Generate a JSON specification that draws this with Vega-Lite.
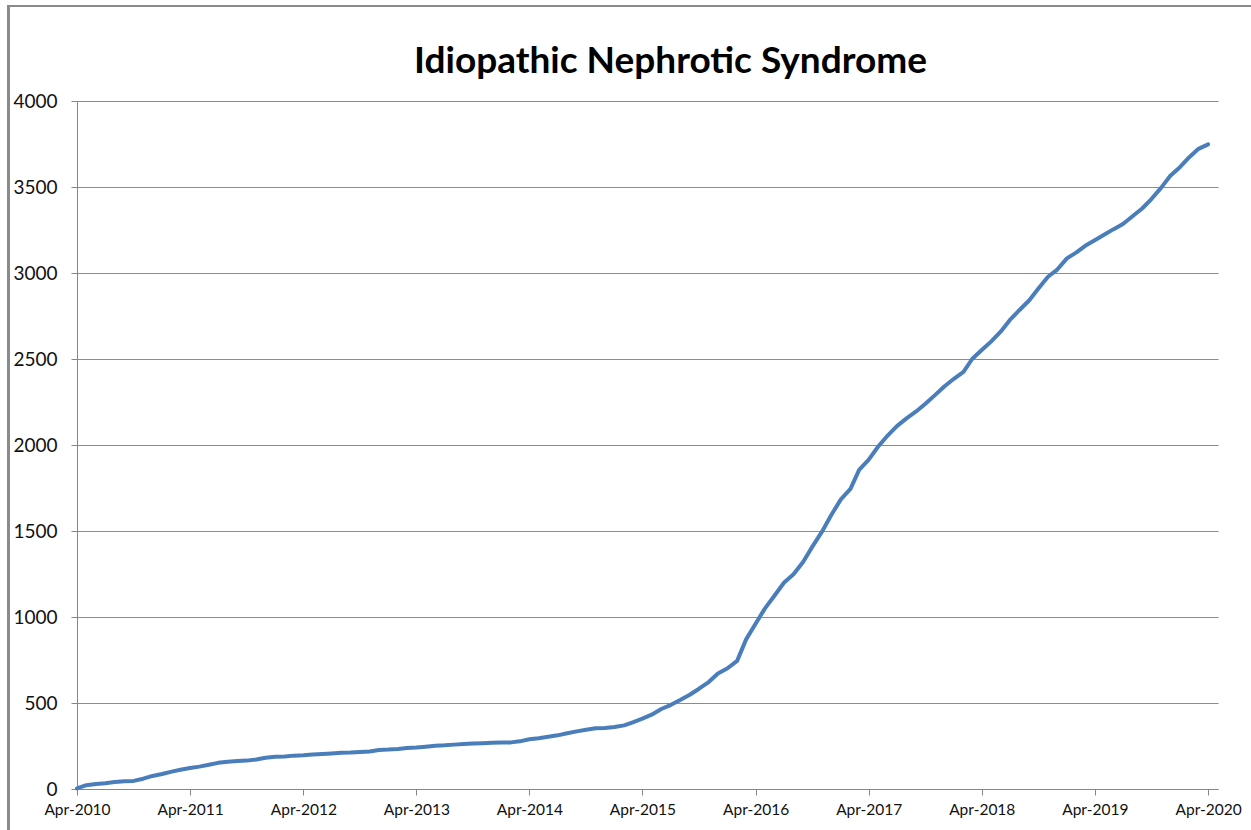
{
  "$schema": "https://vega.github.io/schema/vega-lite/v6.json",
  "autosize": {"type": "none"},
  "width": 1141,
  "height": 688,
  "padding": {"left": 77, "top": 101, "right": 33, "bottom": 41},
  "background": "white",
  "title": {
    "text": "Idiopathic Nephrotic Syndrome",
    "font": "Lato",
    "fontSize": 37,
    "fontWeight": "bold",
    "color": "#000000",
    "anchor": "middle",
    "frame": "group",
    "dx": 23,
    "baseline": "alphabetic",
    "offset": -105
  },
  "config": {"view": {"stroke": null}},
  "data": {"values": [
    {"date": "2010-04-01", "count": 3},
    {"date": "2010-05-01", "count": 22},
    {"date": "2010-06-01", "count": 29},
    {"date": "2010-07-01", "count": 33},
    {"date": "2010-08-01", "count": 41},
    {"date": "2010-09-01", "count": 45},
    {"date": "2010-10-01", "count": 47},
    {"date": "2010-11-01", "count": 60},
    {"date": "2010-12-01", "count": 76},
    {"date": "2011-01-01", "count": 87},
    {"date": "2011-02-01", "count": 101},
    {"date": "2011-03-01", "count": 112},
    {"date": "2011-04-01", "count": 122},
    {"date": "2011-05-01", "count": 130},
    {"date": "2011-06-01", "count": 141},
    {"date": "2011-07-01", "count": 152},
    {"date": "2011-08-01", "count": 159},
    {"date": "2011-09-01", "count": 163},
    {"date": "2011-10-01", "count": 165},
    {"date": "2011-11-01", "count": 172},
    {"date": "2011-12-01", "count": 182},
    {"date": "2012-01-01", "count": 188},
    {"date": "2012-02-01", "count": 189},
    {"date": "2012-03-01", "count": 194},
    {"date": "2012-04-01", "count": 196},
    {"date": "2012-05-01", "count": 200},
    {"date": "2012-06-01", "count": 203},
    {"date": "2012-07-01", "count": 207},
    {"date": "2012-08-01", "count": 211},
    {"date": "2012-09-01", "count": 212},
    {"date": "2012-10-01", "count": 215},
    {"date": "2012-11-01", "count": 218},
    {"date": "2012-12-01", "count": 227},
    {"date": "2013-01-01", "count": 229},
    {"date": "2013-02-01", "count": 233},
    {"date": "2013-03-01", "count": 238},
    {"date": "2013-04-01", "count": 241},
    {"date": "2013-05-01", "count": 246},
    {"date": "2013-06-01", "count": 252},
    {"date": "2013-07-01", "count": 254},
    {"date": "2013-08-01", "count": 258},
    {"date": "2013-09-01", "count": 262},
    {"date": "2013-10-01", "count": 264},
    {"date": "2013-11-01", "count": 266},
    {"date": "2013-12-01", "count": 269},
    {"date": "2014-01-01", "count": 271},
    {"date": "2014-02-01", "count": 271},
    {"date": "2014-03-01", "count": 277},
    {"date": "2014-04-01", "count": 289},
    {"date": "2014-05-01", "count": 295},
    {"date": "2014-06-01", "count": 304},
    {"date": "2014-07-01", "count": 312},
    {"date": "2014-08-01", "count": 324},
    {"date": "2014-09-01", "count": 335},
    {"date": "2014-10-01", "count": 345},
    {"date": "2014-11-01", "count": 353},
    {"date": "2014-12-01", "count": 355},
    {"date": "2015-01-01", "count": 360},
    {"date": "2015-02-01", "count": 370},
    {"date": "2015-03-01", "count": 388},
    {"date": "2015-04-01", "count": 409},
    {"date": "2015-05-01", "count": 432},
    {"date": "2015-06-01", "count": 465},
    {"date": "2015-07-01", "count": 488},
    {"date": "2015-08-01", "count": 517},
    {"date": "2015-09-01", "count": 548},
    {"date": "2015-10-01", "count": 583},
    {"date": "2015-11-01", "count": 622},
    {"date": "2015-12-01", "count": 672},
    {"date": "2016-01-01", "count": 702},
    {"date": "2016-02-01", "count": 745},
    {"date": "2016-03-01", "count": 870},
    {"date": "2016-04-01", "count": 962},
    {"date": "2016-05-01", "count": 1050},
    {"date": "2016-06-01", "count": 1125},
    {"date": "2016-07-01", "count": 1199},
    {"date": "2016-08-01", "count": 1248},
    {"date": "2016-09-01", "count": 1320},
    {"date": "2016-10-01", "count": 1409},
    {"date": "2016-11-01", "count": 1496},
    {"date": "2016-12-01", "count": 1593},
    {"date": "2017-01-01", "count": 1684},
    {"date": "2017-02-01", "count": 1745},
    {"date": "2017-03-01", "count": 1855},
    {"date": "2017-04-01", "count": 1915},
    {"date": "2017-05-01", "count": 1990},
    {"date": "2017-06-01", "count": 2055},
    {"date": "2017-07-01", "count": 2110},
    {"date": "2017-08-01", "count": 2155},
    {"date": "2017-09-01", "count": 2195},
    {"date": "2017-10-01", "count": 2240},
    {"date": "2017-11-01", "count": 2290},
    {"date": "2017-12-01", "count": 2340},
    {"date": "2018-01-01", "count": 2385},
    {"date": "2018-02-01", "count": 2425},
    {"date": "2018-03-01", "count": 2500},
    {"date": "2018-04-01", "count": 2552},
    {"date": "2018-05-01", "count": 2601},
    {"date": "2018-06-01", "count": 2659},
    {"date": "2018-07-01", "count": 2727},
    {"date": "2018-08-01", "count": 2785},
    {"date": "2018-09-01", "count": 2840},
    {"date": "2018-10-01", "count": 2910},
    {"date": "2018-11-01", "count": 2978},
    {"date": "2018-12-01", "count": 3020},
    {"date": "2019-01-01", "count": 3085},
    {"date": "2019-02-01", "count": 3120},
    {"date": "2019-03-01", "count": 3158},
    {"date": "2019-04-01", "count": 3190},
    {"date": "2019-05-01", "count": 3222},
    {"date": "2019-06-01", "count": 3255},
    {"date": "2019-07-01", "count": 3285},
    {"date": "2019-08-01", "count": 3330},
    {"date": "2019-09-01", "count": 3375},
    {"date": "2019-10-01", "count": 3430},
    {"date": "2019-11-01", "count": 3495},
    {"date": "2019-12-01", "count": 3565},
    {"date": "2020-01-01", "count": 3615},
    {"date": "2020-02-01", "count": 3675},
    {"date": "2020-03-01", "count": 3722},
    {"date": "2020-04-01", "count": 3748}
  ]},
  "layer": [
    {
      "mark": {"type": "rect", "fill": null, "filled": false, "stroke": "#8a8a8a", "strokeWidth": 2, "clip": false},
      "encoding": {
        "x": {"datum": {"year": 2009, "month": 8, "date": 22, "utc": true}, "type": "temporal"},
        "x2": {"datum": {"year": 2035, "month": 1, "date": 1, "utc": true}},
        "y": {"datum": 4552, "type": "quantitative"},
        "y2": {"datum": -3000}
      }
    },
    {
      "mark": {"type": "line", "color": "#4a7ebb", "strokeWidth": 4, "strokeJoin": "round", "strokeCap": "round"},
      "encoding": {
        "x": {
          "field": "date",
          "type": "temporal",
          "title": null,
          "scale": {"type": "utc", "domain": [{"year": 2010, "month": 4, "date": 1, "utc": true}, {"year": 2020, "month": 5, "date": 3, "utc": true}]},
          "axis": {
            "values": [
              {"year": 2010, "month": 4, "date": 1, "utc": true},
              {"year": 2011, "month": 4, "date": 1, "utc": true},
              {"year": 2012, "month": 4, "date": 1, "utc": true},
              {"year": 2013, "month": 4, "date": 1, "utc": true},
              {"year": 2014, "month": 4, "date": 1, "utc": true},
              {"year": 2015, "month": 4, "date": 1, "utc": true},
              {"year": 2016, "month": 4, "date": 1, "utc": true},
              {"year": 2017, "month": 4, "date": 1, "utc": true},
              {"year": 2018, "month": 4, "date": 1, "utc": true},
              {"year": 2019, "month": 4, "date": 1, "utc": true},
              {"year": 2020, "month": 4, "date": 1, "utc": true}
            ],
            "labelExpr": "utcFormat(datum.value, '%b-%Y')",
            "grid": false,
            "domainColor": "#868686",
            "tickColor": "#868686",
            "tickSize": 6,
            "labelFont": "Lato",
            "labelFontSize": 15.5,
            "labelColor": "#111111",
            "labelPadding": 7,
            "labelOverlap": false,
            "labelFlush": false
          }
        },
        "y": {
          "field": "count",
          "type": "quantitative",
          "title": null,
          "scale": {"domain": [0, 4000], "nice": false, "zero": true},
          "axis": {
            "values": [0, 500, 1000, 1500, 2000, 2500, 3000, 3500, 4000],
            "format": "d",
            "grid": true,
            "gridColor": "#8c8c8c",
            "gridWidth": 1,
            "domainColor": "#868686",
            "tickColor": "#868686",
            "tickSize": 6,
            "labelFont": "Lato",
            "labelFontSize": 19,
            "labelColor": "#111111",
            "labelPadding": 14,
            "labelFlush": false,
            "labelOverlap": false
          }
        }
      }
    }
  ]
}
